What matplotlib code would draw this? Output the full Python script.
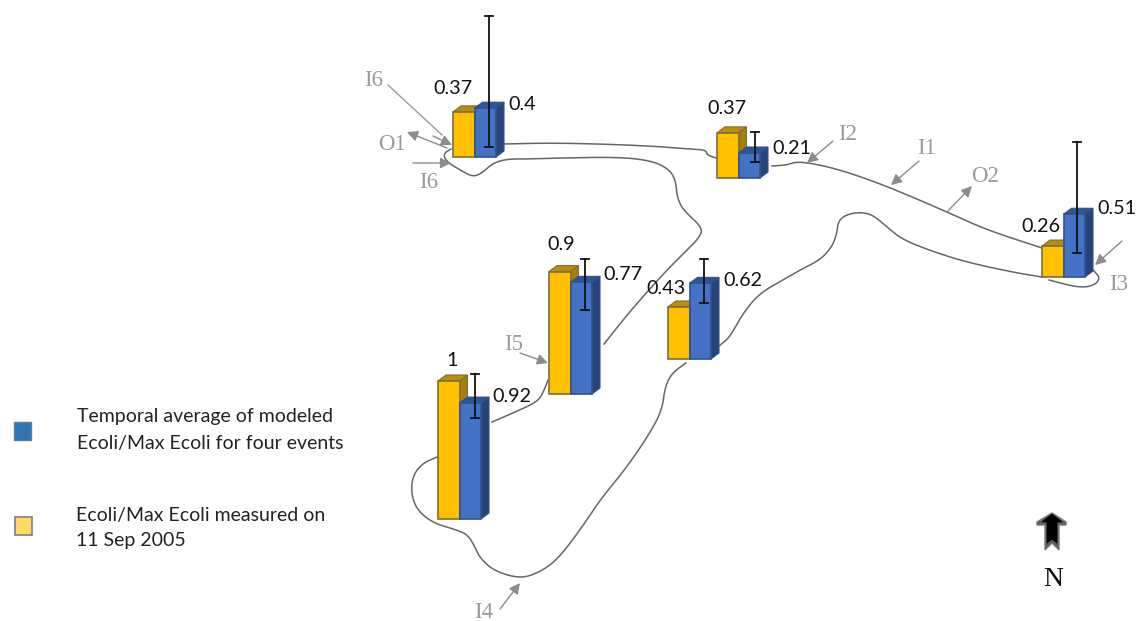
import matplotlib
matplotlib.use("Agg")
import matplotlib.pyplot as plt
from matplotlib.patches import Polygon, Rectangle

# ---- data ----
measured = [0.37, 0.37, 0.9, 0.43, 1, 0.26]
modeled = [0.4, 0.21, 0.77, 0.62, 0.92, 0.51]
err_low = [0.08, 0.134, 0.579, 0.459, 0.80, 0.195]
err_high = [1.156, 0.387, 0.931, 0.82, 1.151, 1.098]
legend_modeled = "Temporal average of modeled\nEcoli/Max Ecoli for four events"
legend_measured = "Ecoli/Max Ecoli measured on\n11 Sep 2005"

# ---- layout (pixel positions on the map) ----
site_x = [453, 717, 549, 668, 438, 1042]
site_base = [157, 178, 394, 359, 519, 277]
measured_scale = [122, 122, 136, 121, 138, 119]
modeled_scale = [122, 119, 145, 122, 126, 123]
err_x = [489, 755, 585, 704, 475, 1077]
measured_lab = [(453, 88), (727, 108), (561, 245), (666, 288), (452, 360), (1041, 227)]
modeled_lab = [(522, 105), (792, 148), (623, 275), (743, 280), (512, 396), (1117, 209)]
BAR_W, DX, DY = 21.5, 8, 6

outlines = [
    [(503, 144), (550, 143), (600, 144), (650, 146), (690, 149), (706, 150), (707, 155), (716, 158)],
    [(451, 149), (443, 154), (447, 162), (460, 170), (473, 177), (482, 173), (493, 163), (507, 159),
     (527, 159), (560, 158), (620, 157), (653, 161), (670, 170), (676, 182), (677, 197), (683, 210),
     (703, 228), (699, 238), (687, 250), (667, 270), (647, 292), (627, 315), (604, 344)],
    [(492, 422), (513, 413), (537, 402), (543, 393), (548, 380)],
    [(437, 457), (423, 463), (413, 475), (411, 493), (417, 510), (433, 523), (457, 530), (468, 535),
     (475, 547), (480, 558), (493, 570), (513, 577), (528, 577), (547, 568), (563, 553), (587, 520),
     (600, 500), (627, 467), (650, 433), (662, 410), (665, 387), (672, 373), (686, 363)],
    [(719, 346), (730, 337), (743, 313), (760, 293), (783, 280), (800, 270), (820, 260), (832, 247),
     (837, 233), (838, 222), (845, 215), (860, 212), (873, 215), (887, 227), (903, 240), (937, 253),
     (970, 263), (1017, 273), (1042, 277)],
    [(1049, 280), (1080, 288), (1095, 285), (1100, 278), (1095, 272), (1092, 269)],
    [(772, 166), (787, 165), (795, 162), (810, 163), (837, 169), (870, 180), (903, 193), (947, 212),
     (987, 230), (1042, 248)],
]
arrows = [
    ((433, 136), (452, 145)), ((447, 148), (407, 132)), ((413, 163), (451, 163)),
    ((520, 353), (548, 363)), ((500, 609), (520, 583)), ((833, 141), (807, 163)),
    ((919, 161), (891, 185)), ((947, 212), (972, 186)), ((1122, 241), (1095, 265)),
]
plain_line = ((388, 85), (442, 135))
grey_labels = [("I6", 374, 81), ("O1", 392, 145), ("I6", 429, 182), ("I5", 514, 344), ("I4", 484, 612),
               ("I2", 848, 134), ("I1", 927, 149), ("O2", 985, 176), ("I3", 1119, 285)]
north_arrow = [(1052, 513), (1066, 522), (1066, 525), (1059, 525), (1059, 550), (1052, 543),
               (1045, 550), (1045, 525), (1037, 525), (1037, 522)]
north_core = [(1052, 514), (1062, 522), (1057, 522), (1057, 543), (1052, 539), (1047, 543),
              (1047, 522), (1042, 522)]

YELLOW = dict(front="#FFC000", side="#A67F0A", top="#B88D0C", edge="#7F6F35")
BLUE = dict(front="#4472C4", side="#264478", top="#2F5597", edge="#2F528F")
INK = "#111111"
GREY = "#9A9A9A"


def smooth(points, rounds=3):
    """Round off the corners of a hand-traced outline."""
    for _ in range(rounds):
        new = [points[0]]
        for (x0, y0), (x1, y1) in zip(points, points[1:]):
            new.append((0.75 * x0 + 0.25 * x1, 0.75 * y0 + 0.25 * y1))
            new.append((0.25 * x0 + 0.75 * x1, 0.25 * y0 + 0.75 * y1))
        new.append(points[-1])
        points = new
    return points


fig = plt.figure(figsize=(11.37, 6.21), dpi=100, facecolor="white")
ax = fig.add_axes([0, 0, 1, 1])
ax.set_xlim(0, 1137)
ax.set_ylim(621, 0)
ax.axis("off")

for seg in outlines:
    ax.plot(*zip(*smooth(seg)), color="#666666", lw=1.1, solid_joinstyle="round", zorder=1)

ax.plot(*zip(*plain_line), color=GREY, lw=1, zorder=2)
for a, b in arrows:
    ax.annotate("", xy=b, xytext=a, zorder=2,
                arrowprops=dict(arrowstyle="-|>", color="#8C8C8C", lw=1, mutation_scale=16,
                                shrinkA=0, shrinkB=0))


def bar3d(x, base, h, c, z):
    top = base - h
    ax.add_patch(Polygon([(x + BAR_W, base), (x + BAR_W + DX, base - DY),
                          (x + BAR_W + DX, top - DY), (x + BAR_W, top)],
                         fc=c["side"], ec=c["edge"], lw=0.8, zorder=z))
    ax.add_patch(Polygon([(x, top), (x + DX, top - DY), (x + BAR_W + DX, top - DY), (x + BAR_W, top)],
                         fc=c["top"], ec=c["edge"], lw=0.8, zorder=z))
    ax.add_patch(Rectangle((x, top), BAR_W, h, fc=c["front"], ec=c["edge"], lw=1.2, zorder=z))


for i in range(len(measured)):
    x, base = site_x[i], site_base[i]
    bar3d(x, base, measured[i] * measured_scale[i], YELLOW, 3)
    bar3d(x + BAR_W, base, modeled[i] * modeled_scale[i], BLUE, 4)
    y0 = base - err_low[i] * modeled_scale[i]
    y1 = base - err_high[i] * modeled_scale[i]
    ax.plot([err_x[i], err_x[i]], [y0, y1], color=INK, lw=1.3, zorder=5)
    for y in (y0, y1):
        ax.plot([err_x[i] - 4, err_x[i] + 4], [y, y], color=INK, lw=1.3, zorder=5)
    ax.text(*measured_lab[i], f"{measured[i]:g}", ha="center", va="center",
            family="Lato", fontsize=14.2, color=INK, zorder=6)
    ax.text(*modeled_lab[i], f"{modeled[i]:g}", ha="center", va="center",
            family="Lato", fontsize=14.2, color=INK, zorder=6)

for s, x, y in grey_labels:
    ax.text(x, y, s, ha="center", va="center", family="Liberation Serif", fontsize=16.5, color=GREY)

ax.add_patch(Polygon(north_arrow, fc="#5A5A5A", ec="#777777", lw=1, zorder=3))
ax.add_patch(Polygon(north_core, fc="black", ec="black", lw=0.5, zorder=3))
ax.text(1053, 579, "N", ha="center", va="center", family="Liberation Serif", fontsize=20, color=INK)

ax.add_patch(Rectangle((14, 422), 17, 18, fc="#2E75B6", ec="#5F7F9F", lw=1))
ax.add_patch(Rectangle((15, 517), 17, 18, fc="#FFD966", ec="#7F7F7F", lw=1.2))
ax.text(77, 430, legend_modeled, ha="left", va="center", family="Lato", fontsize=14,
        color="#222222", linespacing=1.72)
ax.text(76, 528, legend_measured, ha="left", va="center", family="Lato", fontsize=14,
        color="#222222", linespacing=1.62)

fig.savefig("out.png", dpi=100, facecolor="white")
